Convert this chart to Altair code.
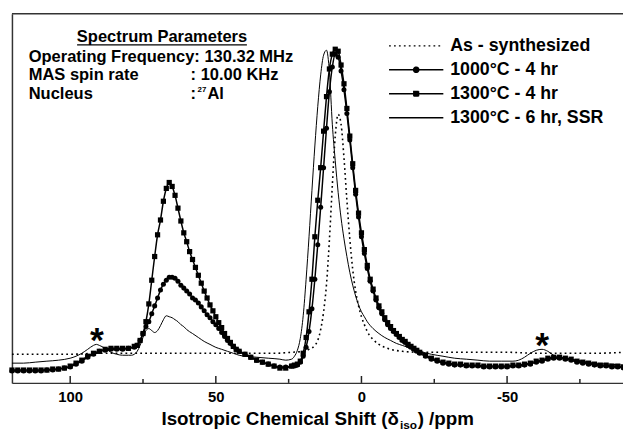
import altair as alt
import pandas as pd

FONT = "Liberation Sans"
W, H = 619, 374

# ---------------- data ----------------
# 1000 °C and 1300 °C (4 hr) share one ppm grid
ppm_thick = (list(range(120, 77, -2)) + list(range(77, 41, -1)) + list(range(40, 23, -2))
             + list(range(23, -21, -1)) + list(range(-22, -91, -2)))

int_1300_4hr = [13, 13, 13, 13, 13, 13, 13, 14, 14, 15, 17, 20, 23, 27, 30, 32, 34, 35, 35, 35, 35, 37,
                38, 43, 50, 62, 80, 104, 128, 150, 165, 184, 197, 203, 199, 190, 177, 164, 152, 143, 133, 125,
                117, 109, 101, 93, 86, 79, 73, 67, 61, 56, 50, 45, 41, 37, 34, 32,
                29, 26, 23, 21, 19, 17, 15, 15, 17,
                18, 19, 22, 30, 46, 72, 105, 148, 185, 218, 255, 290, 318, 333, 338, 336, 322, 303, 278, 250,
                222, 195, 172, 152, 135, 119, 105, 95, 86, 78, 72, 66, 61, 57, 53, 50, 47, 44, 42, 39,
                37, 35, 33, 31,
                28, 25, 23, 21, 20, 19, 19, 18, 18, 18, 17, 17, 17, 17, 17, 18, 18, 19, 20, 22, 23, 25, 26, 26,
                25, 24, 22, 21, 20, 19, 18, 18, 17, 17, 16]

int_1000_4hr = [12, 12, 12, 12, 12, 12, 13, 13, 14, 15, 16, 19, 22, 26, 29, 32, 33, 34, 34, 34, 35, 36,
                38, 43, 50, 57, 62, 70, 78, 86, 94, 100, 104, 107, 107, 106, 103, 99, 96, 93, 90, 86,
                84, 81, 77, 73, 69, 66, 62, 59, 55, 51, 47, 43, 40, 37, 34, 32,
                29, 26, 23, 21, 19, 17, 16, 16, 17,
                17, 18, 21, 27, 36, 52, 75, 105, 140, 178, 218, 258, 295, 320, 333, 330, 316, 297, 273, 246,
                218, 191, 168, 148, 131, 116, 103, 93, 84, 76, 70, 64, 59, 55, 52, 49, 46, 43, 41, 38,
                36, 34, 32, 30,
                27, 24, 22, 20, 19, 18, 18, 17, 17, 17, 16, 16, 16, 16, 16, 17, 17, 18, 19, 21, 22, 24, 25, 25,
                24, 23, 21, 20, 19, 18, 17, 17, 16, 16, 15]

ppm_ssr = [120, 116, 112, 108, 104, 100, 98, 96, 94, 92, 91, 90, 88, 86, 84, 82, 80,
           79, 78, 77, 76, 75, 74, 73, 72, 71, 70, 69, 68, 67, 66, 65, 64, 63, 62, 61, 60,
           58, 56, 54, 52, 50, 48, 46, 44, 42, 40, 36, 32, 28, 26, 24,
           23, 22, 21, 20, 19, 18, 17, 16, 15, 14, 13, 12, 11, 10, 9, 8, 7, 6, 5, 4, 3, 2, 1, 0, -1, -2,
           -4, -6, -8, -10, -12, -14, -17, -20, -24, -28, -32, -36, -40, -44, -48, -52,
           -54, -56, -58, -60, -62, -64, -66, -68, -72, -76, -80, -85, -90]
int_1300_6hr = [20, 20, 21, 22, 23, 25, 27, 30, 34, 38, 39, 38, 35, 31, 29, 28, 28,
                28, 29, 32, 38, 46, 53, 55, 53, 51, 53, 58, 64, 68, 67, 66, 64, 62, 59, 57, 54,
                50, 46, 42, 39, 36, 34, 32, 30, 28, 27, 26, 25, 24, 23, 24,
                27, 33, 45, 68, 105, 148, 195, 240, 280, 312, 332, 337, 315, 262, 225, 193, 167, 146, 128, 112,
                99, 88, 79, 72, 67, 62,
                55, 50, 46, 43, 40, 38, 35, 32, 29, 27, 25, 24, 23, 22, 22, 22,
                23, 26, 30, 33, 34, 32, 28, 26, 24, 22, 20, 19, 18]

ppm_as = [120, 110, 100, 90, 80, 70, 60, 50, 40, 30, 24, 20, 18, 16,
          15, 14, 13, 12, 11, 10, 9, 8, 7, 6, 5, 4, 3, 2, 1, 0, -1, -2,
          -4, -6, -8, -10, -14, -20, -26, -32, -40, -50, -60, -70, -80, -90]
int_as = [29, 29, 29, 30, 30, 30, 30, 30, 30, 30, 31, 32, 34, 38,
          43, 54, 72, 100, 145, 200, 250, 272, 262, 228, 185, 146, 115, 93, 78, 67, 59, 52,
          44, 39, 36, 34, 32, 31, 31, 31, 31, 31, 30, 30, 30, 31]

series_names = ["As - synthesized", "1000°C - 4 hr", "1300°C - 4 hr", "1300°C - 6 hr, SSR"]
major_ticks = [100, 50, 0, -50]
minor_ticks = [75, 25, -25, -75]

df_thick = pd.DataFrame({"ppm": ppm_thick, "s1300": int_1300_4hr, "s1000": int_1000_4hr})
df_ssr = pd.DataFrame({"ppm": ppm_ssr, "intensity": int_1300_6hr})
df_as = pd.DataFrame({"ppm": ppm_as, "intensity": int_as})

# ---------------- scales / axes ----------------
xs = alt.Scale(domain=[-89.8, 120.0], reverse=True, nice=False, zero=False)
ys = alt.Scale(domain=[0, 374], nice=False, zero=False)
x_axis = alt.Axis(values=major_ticks, labelExpr="datum.value + ''", labelFont=FONT,
                  labelFontWeight="bold", labelFontSize=15, labelColor="black", labelPadding=7,
                  ticks=False, tickSize=0, domainColor="#333333", domainWidth=1.5, grid=False, title=None)
y_axis = alt.Axis(labels=False, ticks=False, title=None, grid=False, domainColor="#333333", domainWidth=1.5)

X = alt.X("ppm:Q", scale=xs, axis=x_axis)


def Yf(field):
    return alt.Y(f"{field}:Q", scale=ys, axis=y_axis)


one = pd.DataFrame({"k": [0]})

as_line = alt.Chart(df_as).mark_line(color="black", strokeWidth=1.6, strokeDash=[1.8, 3.2],
                                     interpolate="monotone").encode(x=X, y=Yf("intensity"))
ssr_line = alt.Chart(df_ssr).mark_line(color="black", strokeWidth=1.0,
                                       interpolate="monotone").encode(x=X, y=Yf("intensity"))
l1000 = alt.Chart(df_thick).mark_line(color="black", strokeWidth=1.5,
                                      interpolate="monotone").encode(x=X, y=Yf("s1000"))
p1000 = alt.Chart(df_thick).mark_point(shape="circle", filled=True, size=26, color="black",
                                       opacity=1).encode(x=X, y=Yf("s1000"))
l1300 = alt.Chart(df_thick).mark_line(color="black", strokeWidth=1.5,
                                      interpolate="monotone").encode(x=X, y=Yf("s1300"))
p1300 = alt.Chart(df_thick).mark_square(filled=True, size=28, color="black",
                                        opacity=1).encode(x=X, y=Yf("s1300"))

tick_major = alt.Chart(pd.DataFrame({"ppm": major_ticks})).mark_rule(color="#222222", strokeWidth=1.5).encode(
    x=X, y=alt.value(H), y2=alt.value(H - 7))
tick_minor = alt.Chart(pd.DataFrame({"ppm": minor_ticks})).mark_rule(color="#222222", strokeWidth=1.5).encode(
    x=X, y=alt.value(H), y2=alt.value(H - 4))
top_border = alt.Chart(one).mark_rule(color="#333333", strokeWidth=1.5).encode(
    x=alt.value(0), x2=alt.value(W + 5), y=alt.value(0))


def txt(text, x, y, size=16.7, align="left", weight="bold", baseline="alphabetic"):
    return alt.Chart(one).mark_text(text=text, font=FONT, fontSize=size, fontWeight=weight,
                                    align=align, baseline=baseline, color="black").encode(
        x=alt.value(x), y=alt.value(y))


notes = [
    txt("Spectrum Parameters", 152, 29, align="center"),
    txt("Operating Frequency: 130.32 MHz", 17, 49),
    txt("MAS spin rate", 17, 67),
    txt(": 10.00 KHz", 181, 67),
    txt("Nucleus", 17, 86),
    txt(":", 181, 86),
    txt("27", 188, 79, size=8),
    txt("Al", 198, 86),
    txt("*", 86, 343, size=36, align="center"),
    txt("*", 537, 348, size=36, align="center"),
    txt("Isotropic Chemical Shift (δ", 392, 417, size=19, align="right"),
    txt("iso", 393, 421, size=12),
    txt(") /ppm", 411, 417, size=19),
]
underline = alt.Chart(one).mark_rule(color="black", strokeWidth=1.3).encode(
    x=alt.value(66), x2=alt.value(238), y=alt.value(31.5))

# legend: symbols are stroke-only paths (line + marker filled by strokes)
circ = ("M0.55,0A0.55,0.55,0,1,1,-0.55,0A0.55,0.55,0,1,1,0.55,0"
        "M-0.38,-0.4L0.38,-0.4M-0.51,-0.2L0.51,-0.2M-0.55,0L0.55,0M-0.51,0.2L0.51,0.2M-0.38,0.4L0.38,0.4")
sq = ("M-0.5,-0.5L0.5,-0.5L0.5,0.5L-0.5,0.5Z"
      "M-0.5,-0.3L0.5,-0.3M-0.5,-0.1L0.5,-0.1M-0.5,0.1L0.5,0.1M-0.5,0.3L0.5,0.3")
sym_paths = [
    "M-5.5,0L5.5,0",
    "M-5.5,0L5.5,0" + circ,
    "M-5.5,0L5.5,0" + sq,
    "M-5.5,0L5.5,0",
]
dashes = [[1.8, 3.2], [1, 0], [1, 0], [1, 0]]
leg = alt.Legend(orient="none", legendX=400.5, legendY=23.5, title=None, labelFont=FONT, labelFontSize=18,
                 labelFontWeight="bold", labelColor="black", labelOffset=25.5, rowPadding=6.3,
                 symbolSize=100, padding=0, labelLimit=400, symbolStrokeColor="black",
                 symbolStrokeWidth=1.3)
leg_df = pd.DataFrame({"series": series_names, "ppm": [200] * 4, "intensity": [0] * 4})
legend_layer = alt.Chart(leg_df).mark_point(clip=True, filled=False, size=100, color="black",
                                            strokeWidth=1.3, opacity=1).encode(
    x=X, y=Yf("intensity"),
    shape=alt.Shape("series:N", scale=alt.Scale(domain=series_names, range=sym_paths), legend=leg),
    strokeDash=alt.StrokeDash("series:N", scale=alt.Scale(domain=series_names, range=dashes), legend=leg),
)

chart = alt.layer(
    as_line, ssr_line, l1000, p1000, l1300, p1300, tick_major, tick_minor, top_border, underline,
    *notes, legend_layer
).properties(
    width=W, height=H,
    padding={"left": 4, "top": 3, "right": 0, "bottom": 48},
    autosize=alt.AutoSizeParams(type="none"),
    background="white",
).configure_view(strokeWidth=0)

chart.save("out.html", embed_options={"renderer": "svg", "actions": False})
